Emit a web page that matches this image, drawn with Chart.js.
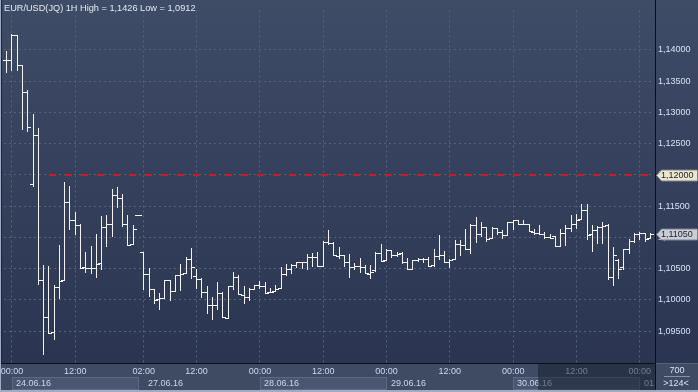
<!DOCTYPE html>
<html>
<head>
<meta charset="utf-8">
<script src="https://cdn.jsdelivr.net/npm/chart.js@4.4.0/dist/chart.umd.min.js"></script>
<style>
  html, body { margin: 0; padding: 0; background: #3b475f; overflow: hidden; }
  canvas { display: block; }
</style>
</head>
<body>
<canvas id="fx" width="698" height="392"></canvas>
<script>
// EUR/USD 1H bars (oldest first)
const opens = [1.1383,1.1384,1.1423,1.1375,1.1333,1.1185,1.1264,1.1031,1.0973,1.0948,
  1.1020,1.1030,1.1157,1.1128,1.1119,1.1053,1.1051,1.1051,1.1059,1.1117,
  1.1121,1.1168,1.1163,1.1122,1.1087,1.1135,1.1076,1.1041,1.1017,1.1001,
  1.1003,1.1032,1.1014,1.1040,1.1042,1.1065,1.1038,1.1034,1.1013,1.0992,
  1.0991,1.1011,1.0971,1.1022,1.1036,1.1008,1.1004,1.1018,1.1023,1.1022,
  1.1011,1.1013,1.1018,1.1042,1.1049,1.1055,1.1060,1.1061,1.1069,1.1069,
  1.1053,1.1093,1.1091,1.1070,1.1072,1.1061,1.1052,1.1054,1.1052,1.1041,
  1.1047,1.1075,1.1062,1.1079,1.1071,1.1075,1.1060,1.1049,1.1064,1.1065,
  1.1065,1.1056,1.1070,1.1072,1.1060,1.1064,1.1090,1.1087,1.1081,1.1120,
  1.1105,1.1117,1.1098,1.1115,1.1108,1.1103,1.1124,1.1127,1.1121,1.1121,
  1.1109,1.1107,1.1106,1.1101,1.1102,1.1084,1.1107,1.1115,1.1121,1.1127,
  1.1144,1.1106,1.1111,1.1117,1.1119,1.1036,1.1064,1.1052,1.1081,1.1094,
  1.1106,1.1107,1.1098];
const highs = [1.1398,1.1426,1.1423,1.1375,1.1336,1.1297,1.1275,1.1055,1.1054,1.1023,
  1.1088,1.1189,1.1182,1.1141,1.1121,1.1076,1.1086,1.1106,1.1134,1.1135,
  1.1177,1.1181,1.1170,1.1136,1.1120,1.1135,1.1077,1.1051,1.1017,1.1011,
  1.1032,1.1032,1.1040,1.1058,1.1069,1.1083,1.1049,1.1035,1.1022,1.1004,
  1.1028,1.1013,1.1022,1.1044,1.1040,1.1022,1.1019,1.1024,1.1030,1.1029,
  1.1019,1.1024,1.1053,1.1058,1.1057,1.1061,1.1061,1.1073,1.1075,1.1077,
  1.1094,1.1111,1.1093,1.1085,1.1072,1.1074,1.1059,1.1067,1.1056,1.1055,
  1.1077,1.1089,1.1081,1.1079,1.1077,1.1077,1.1067,1.1064,1.1067,1.1067,
  1.1068,1.1081,1.1103,1.1078,1.1065,1.1096,1.1095,1.1113,1.1121,1.1132,
  1.1124,1.1117,1.1116,1.1115,1.1111,1.1125,1.1128,1.1127,1.1127,1.1121,
  1.1113,1.1120,1.1109,1.1106,1.1102,1.1113,1.1120,1.1135,1.1138,1.1154,
  1.1154,1.1120,1.1118,1.1124,1.1121,1.1085,1.1066,1.1081,1.1098,1.1107,
  1.1108,1.1107,1.1107];
const lows = [1.1363,1.1366,1.1366,1.1272,1.1268,1.1180,1.1024,1.0912,1.0946,1.0936,
  1.1002,1.1030,1.1112,1.1104,1.1049,1.1043,1.1041,1.1035,1.1048,1.1085,
  1.1100,1.1147,1.1116,1.1086,1.1087,1.1135,1.1015,1.1004,1.0993,1.0984,
  1.1001,1.0998,1.1013,1.1014,1.1042,1.1033,1.1018,1.1003,1.0978,1.0968,
  1.0984,1.0971,1.0970,1.1016,1.1007,1.0993,1.0998,1.1016,1.1018,1.1010,
  1.1011,1.1013,1.1018,1.1038,1.1042,1.1051,1.1050,1.1047,1.1053,1.1053,
  1.1053,1.1088,1.1070,1.1066,1.1053,1.1035,1.1047,1.1043,1.1041,1.1034,
  1.1045,1.1061,1.1062,1.1067,1.1069,1.1057,1.1048,1.1048,1.1060,1.1059,
  1.1053,1.1053,1.1063,1.1059,1.1051,1.1064,1.1070,1.1080,1.1073,1.1091,
  1.1100,1.1092,1.1098,1.1104,1.1098,1.1102,1.1112,1.1119,1.1119,1.1108,
  1.1104,1.1104,1.1098,1.1098,1.1084,1.1084,1.1086,1.1109,1.1113,1.1127,
  1.1096,1.1076,1.1090,1.1089,1.1031,1.1022,1.1034,1.1048,1.1074,1.1091,
  1.1095,1.1093,1.1098];
const closes = [1.1384,1.1423,1.1375,1.1333,1.1276,1.1264,1.1031,1.0973,1.0946,1.1021,
  1.1030,1.1156,1.1128,1.1119,1.1051,1.1051,1.1051,1.1058,1.1117,1.1121,
  1.1168,1.1163,1.1122,1.1087,1.1113,1.1135,1.1041,1.1017,1.1000,1.1003,
  1.1032,1.1014,1.1040,1.1042,1.1065,1.1052,1.1034,1.1013,1.0992,1.0991,
  1.1011,1.0971,1.1022,1.1036,1.1008,1.1004,1.1018,1.1023,1.1022,1.1011,
  1.1013,1.1018,1.1042,1.1049,1.1055,1.1060,1.1061,1.1069,1.1069,1.1053,
  1.1093,1.1091,1.1070,1.1072,1.1061,1.1052,1.1054,1.1052,1.1041,1.1045,
  1.1075,1.1062,1.1079,1.1071,1.1074,1.1060,1.1049,1.1064,1.1065,1.1065,
  1.1054,1.1070,1.1072,1.1060,1.1064,1.1090,1.1087,1.1081,1.1120,1.1105,
  1.1117,1.1098,1.1115,1.1108,1.1103,1.1124,1.1127,1.1121,1.1121,1.1109,
  1.1107,1.1106,1.1101,1.1099,1.1084,1.1107,1.1115,1.1121,1.1127,1.1144,
  1.1104,1.1111,1.1117,1.1118,1.1036,1.1072,1.1049,1.1081,1.1094,1.1106,
  1.1107,1.1098,1.1105];

// hour of each bar: 23.06 23:00, 24.06 00:00-23:00, 27.06 01:00 ... 01.07 02:00
const hours = ['23:00'];
for (let h = 0; h < 24; h++) hours.push(String(h).padStart(2, '0') + ':00');
for (let d = 0; d < 5; d++) {
  for (let h = (d === 0 ? 1 : 0); h < 24; h++) hours.push(String(h).padStart(2, '0') + ':00');
}
hours.length = opens.length;

// bars that carry a time label and a vertical grid line
const labelBars = [1, 13, 26, 36, 48, 60, 72, 84, 96, 108, 120];
// date row
const dayNames = ['24.06.16', '27.06.16', '28.06.16', '29.06.16', '30.06.16', '01.07.16'];
const dayFrom = [1, 26, 48, 72, 96, 120];
const dayTo = [25, 48, 72, 96, 120, 122];

const levelPrice = 1.12;      // red dashed level
const levelFromBar = 8;
const lastPrice = 1.1105;
const title = 'EUR/USD(JQ) 1H High = 1,1426 Low = 1,0912';

const fontFam = '"Liberation Sans", Arial, sans-serif';
const gridColor = '#55627c';
Chart.defaults.font.family = fontFam;
Chart.defaults.font.size = 9;

const fmt = v => v.toFixed(5).replace('.', ',');

const fxPlugin = {
  id: 'fx',
  beforeDraw(chart) {
    const { ctx, chartArea: a, width, height } = chart;
    const xs = chart.scales.x;
    ctx.save();
    const g = ctx.createLinearGradient(0, 0, 0, a.bottom);
    g.addColorStop(0, '#3f4c66');
    g.addColorStop(1, '#2b3551');
    ctx.fillStyle = g;
    ctx.fillRect(0, 0, width, a.bottom);
    ctx.fillStyle = '#3f4b63';
    ctx.fillRect(0, a.bottom, width, height - a.bottom);
    // highlighted date boxes
    for (let i = 0; i < dayNames.length; i += 2) {
      const x0 = Math.round(xs.getPixelForValue(dayFrom[i]));
      const x1 = Math.min(655, Math.round(xs.getPixelForValue(dayTo[i])));
      ctx.fillStyle = '#4a566f';
      ctx.fillRect(x0, 377, x1 - x0, 13);
      ctx.strokeStyle = '#5c6983';
      ctx.lineWidth = 1;
      ctx.strokeRect(x0 + 0.5, 377.5, x1 - x0 - 1, 12);
    }
    ctx.restore();
  },
  beforeDatasetsDraw(chart) {
    const { ctx, chartArea: a } = chart;
    const xs = chart.scales.x, ys = chart.scales.y;
    // snap the high-low bars to whole pixels
    chart.getDatasetMeta(0).data.forEach(el => {
      el.x = Math.floor(el.x) + 0.5;
      el.y = Math.round(el.y);
      el.base = Math.round(el.base);
    });
    // red level line, 7px dashes every 16px
    const y = Math.round(ys.getPixelForValue(levelPrice));
    ctx.save();
    ctx.fillStyle = '#d8141f';
    for (let x = Math.round(xs.getPixelForValue(levelFromBar)); x < a.right; x += 16) {
      ctx.fillRect(x, y - 1, Math.min(7, a.right - x), 2);
    }
    ctx.restore();
  },
  afterDatasetsDraw(chart) {
    const { ctx } = chart;
    const ys = chart.scales.y;
    ctx.save();
    ctx.fillStyle = '#f4f4f4';
    chart.getDatasetMeta(0).data.forEach((el, i) => {
      const px = Math.floor(el.x);
      const top = Math.round(ys.getPixelForValue(highs[i]));
      const bot = Math.max(top + 1, Math.round(ys.getPixelForValue(lows[i])));
      const yo = Math.min(Math.round(ys.getPixelForValue(opens[i])), bot - 1);
      const yc = Math.min(Math.round(ys.getPixelForValue(closes[i])), bot - 1);
      ctx.fillRect(px - 3, yo, 3, 1);
      ctx.fillRect(px + 1, yc, 3, 1);
      if (top === Math.round(ys.getPixelForValue(lows[i]))) ctx.fillRect(px, top, 1, 1);
    });
    ctx.restore();
  },
  afterDraw(chart) {
    const { ctx, chartArea: a, width, height } = chart;
    const xs = chart.scales.x, ys = chart.scales.y;
    ctx.save();
    ctx.font = '9px ' + fontFam;
    // date row labels
    ctx.textBaseline = 'middle';
    ctx.textAlign = 'left';
    ctx.fillStyle = '#c9d8ee';
    ctx.save();
    ctx.beginPath();
    ctx.rect(0, a.bottom, 655, height - a.bottom);
    ctx.clip();
    dayNames.forEach((d, i) => {
      ctx.fillText(d, Math.round(xs.getPixelForValue(dayFrom[i])) + 4, 383.5);
    });
    ctx.restore();
    // darker scroll window on the axis
    ctx.fillStyle = 'rgba(20, 28, 46, 0.5)';
    ctx.fillRect(538, a.bottom + 1, 117, 27);
    // frame lines
    ctx.fillStyle = '#0b0f18';
    ctx.fillRect(655, 0, 1, height);
    ctx.fillRect(0, a.bottom, 655, 1);
    ctx.fillStyle = '#55617a';
    ctx.fillRect(656, a.bottom, width - 656, 1);
    ctx.fillStyle = '#9eabc0';
    ctx.fillRect(0, 0, 1, height);
    ctx.fillRect(0, height - 2, width, 2);
    ctx.fillStyle = '#1d2538';
    ctx.fillRect(1, 0, 1, a.bottom);
    // price tags
    const tag = (price, bg, fg) => {
      const y = Math.round(ys.getPixelForValue(price)) + 0.5;
      ctx.beginPath();
      ctx.moveTo(656.5, y);
      ctx.lineTo(661.5, y - 5.5);
      ctx.lineTo(697.5, y - 5.5);
      ctx.lineTo(697.5, y + 5.5);
      ctx.lineTo(661.5, y + 5.5);
      ctx.closePath();
      ctx.fillStyle = bg;
      ctx.fill();
      ctx.strokeStyle = '#7d8190';
      ctx.lineWidth = 1;
      ctx.stroke();
      ctx.fillStyle = fg;
      ctx.textAlign = 'left';
      ctx.fillText(fmt(price), 661, y + 0.5);
    };
    tag(levelPrice, '#ebe7cf', '#1c1c24');
    tag(lastPrice, '#c9cdd4', '#1a2030');
    // bar counter in the corner
    ctx.textAlign = 'center';
    ctx.fillStyle = '#d6e2f4';
    ctx.fillText('700', 677, 370.5);
    ctx.fillText('>124<', 676, 383.5);
    ctx.fillStyle = '#8593aa';
    ctx.fillRect(664, 376, 26, 1);
    // title
    ctx.textAlign = 'left';
    ctx.textBaseline = 'alphabetic';
    ctx.fillStyle = '#e2eaf6';
    ctx.font = '9.2px ' + fontFam;
    ctx.fillText(title, 4, 11);
    ctx.restore();
  }
};

new Chart(document.getElementById('fx'), {
  type: 'bar',
  data: {
    labels: hours,
    datasets: [{
      data: lows.map((l, i) => [l, highs[i]]),
      backgroundColor: '#f4f4f4',
      borderWidth: 0,
      barThickness: 1,
      inflateAmount: 0
    }]
  },
  options: {
    responsive: false,
    animation: false,
    devicePixelRatio: 1,
    layout: { padding: { left: 4, top: 2, right: 0, bottom: 0 } },
    plugins: { legend: { display: false }, tooltip: { enabled: false } },
    scales: {
      x: {
        type: 'category',
        offset: true,
        grid: {
          offset: false,
          drawTicks: false,
          color: c => labelBars.includes(c.index) ? gridColor : 'rgba(0,0,0,0)'
        },
        border: { display: false, dash: [2, 3] },
        ticks: {
          autoSkip: false,
          maxRotation: 0,
          padding: 3,
          color: '#c9d8ee',
          callback: (v, i) => labelBars.includes(i) ? hours[i] : ''
        },
        afterFit: s => { s.height = 29; }
      },
      y: {
        position: 'right',
        min: 1.08989,
        max: 1.14630,
        grid: {
          drawTicks: false,
          color: c => (c.tick && c.tick.value > 1.094 && c.tick.value < 1.141) ? gridColor : 'rgba(0,0,0,0)'
        },
        border: { display: false, dash: [2, 3] },
        ticks: {
          stepSize: 0.005,
          includeBounds: false,
          padding: 5,
          color: '#d6e2f4',
          callback: v => (v > 1.094 && v < 1.141) ? fmt(v) : ''
        },
        afterFit: s => { s.width = 45; }
      }
    }
  },
  plugins: [fxPlugin]
});
</script>
</body>
</html>
